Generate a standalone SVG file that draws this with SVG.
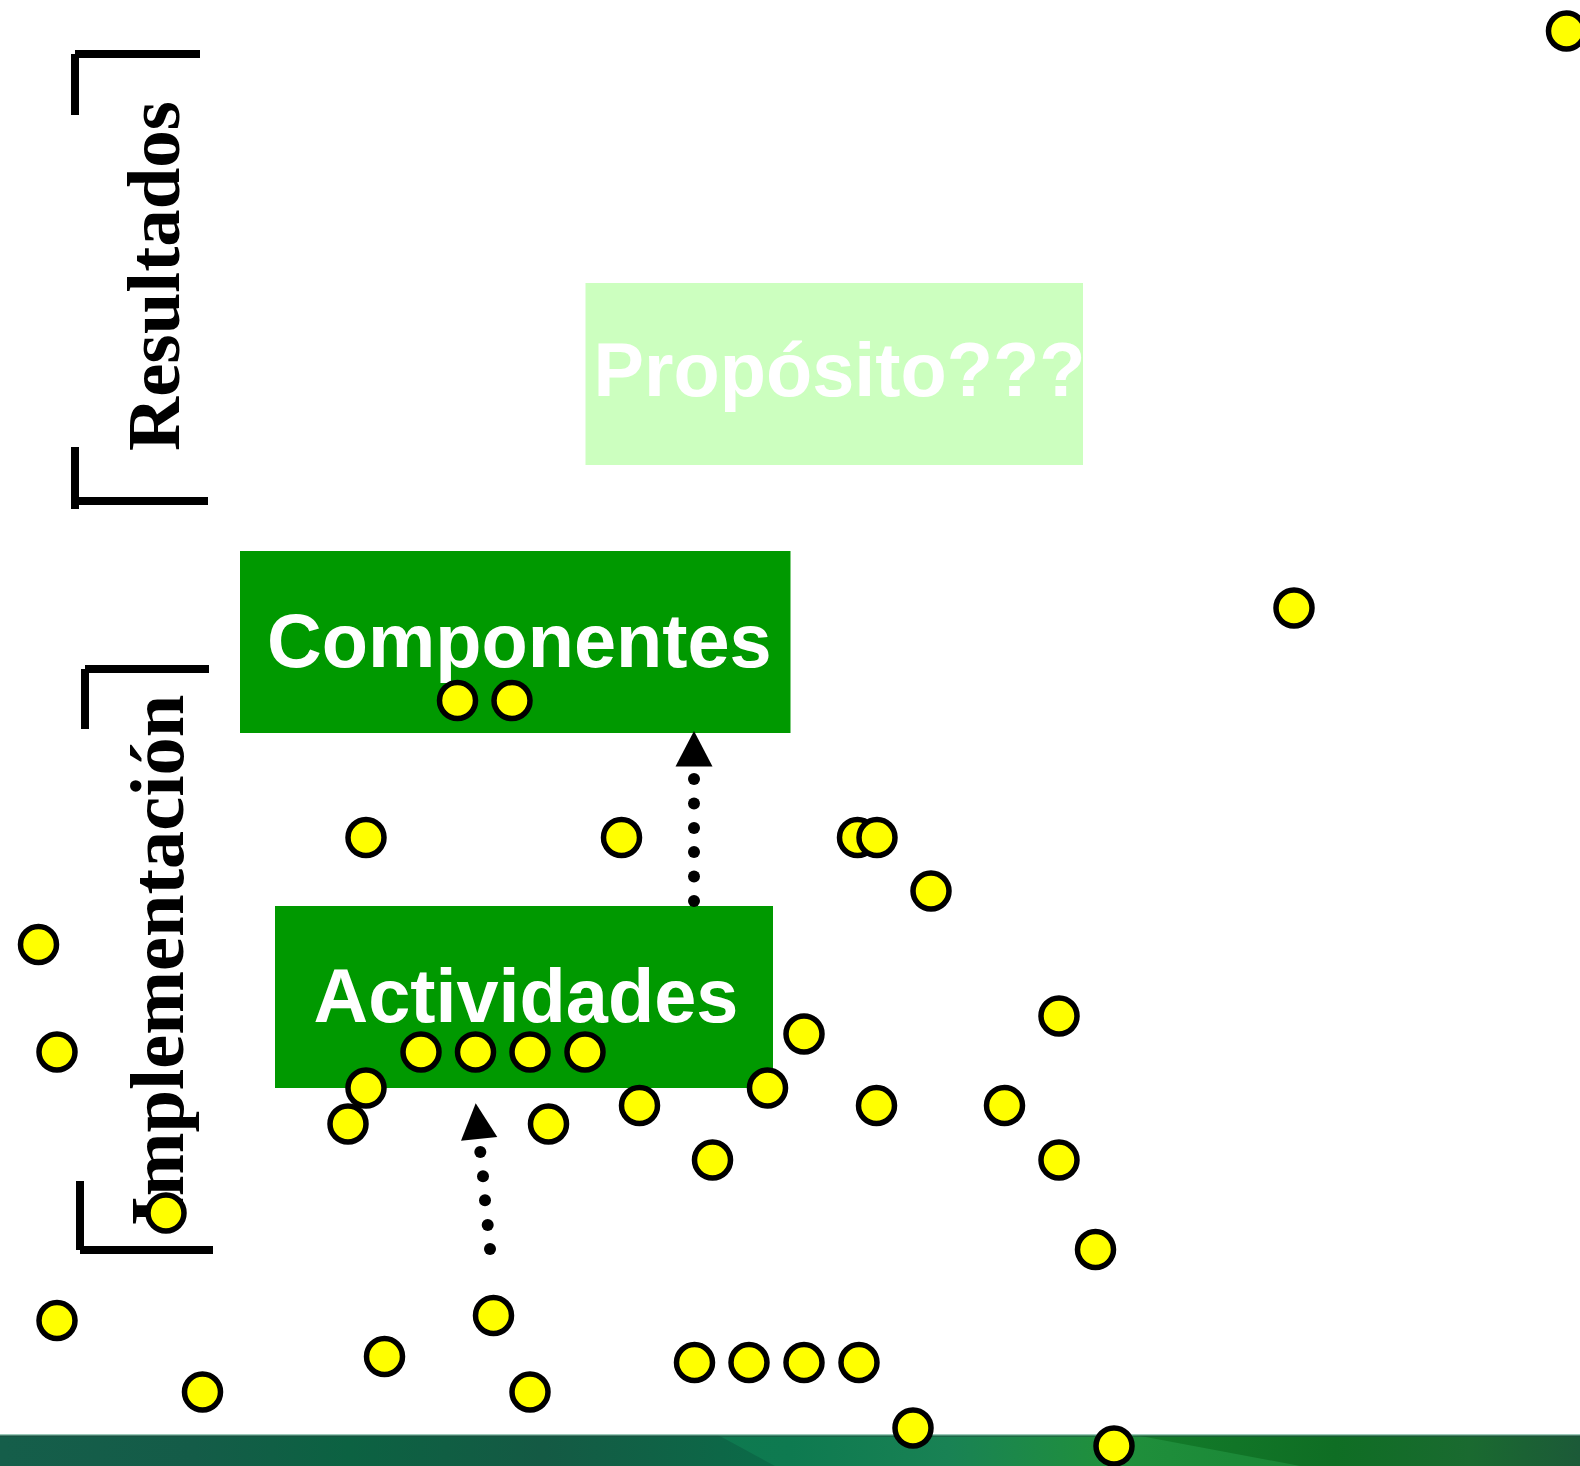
<svg xmlns="http://www.w3.org/2000/svg" width="1580" height="1466" viewBox="0 0 1580 1466">
<style>
.dot{fill:#ffff00;stroke:#000;stroke-width:5.500}
.bar{stroke:#000;stroke-width:8;fill:none}
.lab{font-family:"Liberation Sans",Arial,sans-serif;font-weight:700;font-size:75.700px;fill:#fff}
.side{font-family:"Liberation Serif","Times New Roman",serif;font-weight:700;font-size:75px;fill:#000}
.green{fill:#009900}
.pt{fill:#000}
</style>
<defs>
<linearGradient id="band" x1="0" y1="0" x2="1" y2="0">
<stop offset="0" stop-color="#0c7048"/>
<stop offset="0.5" stop-color="#0e7a50"/>
<stop offset="0.6" stop-color="#198254"/>
<stop offset="0.7" stop-color="#20903c"/>
<stop offset="0.78" stop-color="#1c8a38"/>
<stop offset="1" stop-color="#1a7a34"/>
</linearGradient>
<linearGradient id="bandL" x1="0" y1="0" x2="1" y2="0">
<stop offset="0" stop-color="#155e4a"/>
<stop offset="0.25" stop-color="#145c48"/>
<stop offset="0.45" stop-color="#0c6242"/>
<stop offset="0.7" stop-color="#145a44"/>
<stop offset="1" stop-color="#0b6b48"/>
</linearGradient>
<linearGradient id="bandR" x1="0" y1="0" x2="1" y2="0">
<stop offset="0" stop-color="#137c2a"/>
<stop offset="0.45" stop-color="#0f6e24"/>
<stop offset="0.75" stop-color="#1a6a30"/>
<stop offset="1" stop-color="#1c5a38"/>
</linearGradient>
</defs>
<rect width="1580" height="1466" fill="#fff"/>
<g id="footer">
<rect x="0" y="1435" width="1580" height="31" fill="url(#band)"/>
<path d="M0 1435H718L775 1466H0Z" fill="url(#bandL)"/>
<path d="M1135 1435H1580V1466H1300Z" fill="url(#bandR)"/>
<rect x="0" y="1434" width="1580" height="1.500" fill="#9cc8b8"/>
<rect x="0" y="1435.500" width="1580" height="1.500" fill="#1c4a3c" opacity="0.5"/>
</g>
<g id="bracket-resultados">
<path class="bar" d="M75 54H200M75 54V115"/>
<path class="bar" d="M75 447V509M75 501H208"/>
<text class="side" transform="translate(179 451) rotate(-90)">Resultados</text>
</g>
<g id="bracket-implementacion">
<path class="bar" d="M85 669H209M85 669V729"/>
<path class="bar" d="M80 1181V1250M80 1250H213"/>
<text class="side" style="font-size:76.500px" transform="translate(183 1226) rotate(-90)">Implementación</text>
</g>
<g id="proposito">
<rect x="585.500" y="283" width="497.500" height="182" fill="#ccffbf"/>
<text class="lab" x="593.500" y="396">Propósito???</text>
</g>
<g id="componentes">
<rect class="green" x="240" y="551" width="550.500" height="182"/>
<text class="lab" x="267" y="667">Componentes</text>
</g>
<g id="actividades">
<rect class="green" x="275" y="906" width="498" height="182"/>
<text class="lab" x="313.500" y="1022">Actividades</text>
</g>
<g id="connectors">
<path class="pt" d="M694 731L712.500 766.500H675.500Z"/>
<circle class="pt" cx="694" cy="779" r="6"/><circle class="pt" cx="694" cy="803.500" r="6"/><circle class="pt" cx="694" cy="828" r="6"/><circle class="pt" cx="694" cy="852" r="6"/><circle class="pt" cx="694" cy="876.500" r="6"/><circle class="pt" cx="694" cy="901" r="6"/>
<path class="pt" d="M475.700 1103.300L497.300 1137L461 1140.700Z"/>
<circle class="pt" cx="480.300" cy="1152" r="6"/><circle class="pt" cx="483" cy="1176.300" r="6"/><circle class="pt" cx="485" cy="1200.300" r="6"/><circle class="pt" cx="487.700" cy="1225" r="6"/><circle class="pt" cx="490" cy="1249" r="6"/>
</g>
<g id="dots">
<circle class="dot" cx="1566.500" cy="31" r="18"/><circle class="dot" cx="1294" cy="608" r="18"/>
<circle class="dot" cx="457.500" cy="700.500" r="18"/><circle class="dot" cx="512" cy="700.500" r="18"/>
<circle class="dot" cx="366" cy="837.500" r="18"/><circle class="dot" cx="621.500" cy="837.500" r="18"/>
<circle class="dot" cx="857.500" cy="837.500" r="18"/><circle class="dot" cx="877" cy="837.500" r="18"/>
<circle class="dot" cx="931" cy="891" r="18"/><circle class="dot" cx="38.500" cy="944.500" r="18"/>
<circle class="dot" cx="57" cy="1052" r="18"/><circle class="dot" cx="421" cy="1052" r="18"/>
<circle class="dot" cx="475.500" cy="1052" r="18"/><circle class="dot" cx="530" cy="1052" r="18"/><circle class="dot" cx="585" cy="1052" r="18"/>
<circle class="dot" cx="804" cy="1034" r="18"/><circle class="dot" cx="1059" cy="1016" r="18"/>
<circle class="dot" cx="348" cy="1124" r="18"/><circle class="dot" cx="366" cy="1088" r="18"/>
<circle class="dot" cx="548.500" cy="1124" r="18"/><circle class="dot" cx="639.500" cy="1105.500" r="18"/>
<circle class="dot" cx="767.500" cy="1088" r="18"/><circle class="dot" cx="876.500" cy="1105.500" r="18"/><circle class="dot" cx="1004.500" cy="1105.500" r="18"/>
<circle class="dot" cx="712.500" cy="1160" r="18"/><circle class="dot" cx="1059" cy="1160" r="18"/>
<circle class="dot" cx="166" cy="1213" r="18"/><circle class="dot" cx="1095.500" cy="1249.500" r="18"/>
<circle class="dot" cx="57" cy="1320.500" r="18"/><circle class="dot" cx="493.500" cy="1315.500" r="18"/>
<circle class="dot" cx="384.500" cy="1356.500" r="18"/><circle class="dot" cx="202.500" cy="1392" r="18"/><circle class="dot" cx="530" cy="1392" r="18"/>
<circle class="dot" cx="694.500" cy="1362.500" r="18"/><circle class="dot" cx="749" cy="1362.500" r="18"/><circle class="dot" cx="804" cy="1362.500" r="18"/><circle class="dot" cx="859" cy="1362.500" r="18"/>
<circle class="dot" cx="913" cy="1428" r="18"/><circle class="dot" cx="1114" cy="1446" r="18"/>
</g>
</svg>
